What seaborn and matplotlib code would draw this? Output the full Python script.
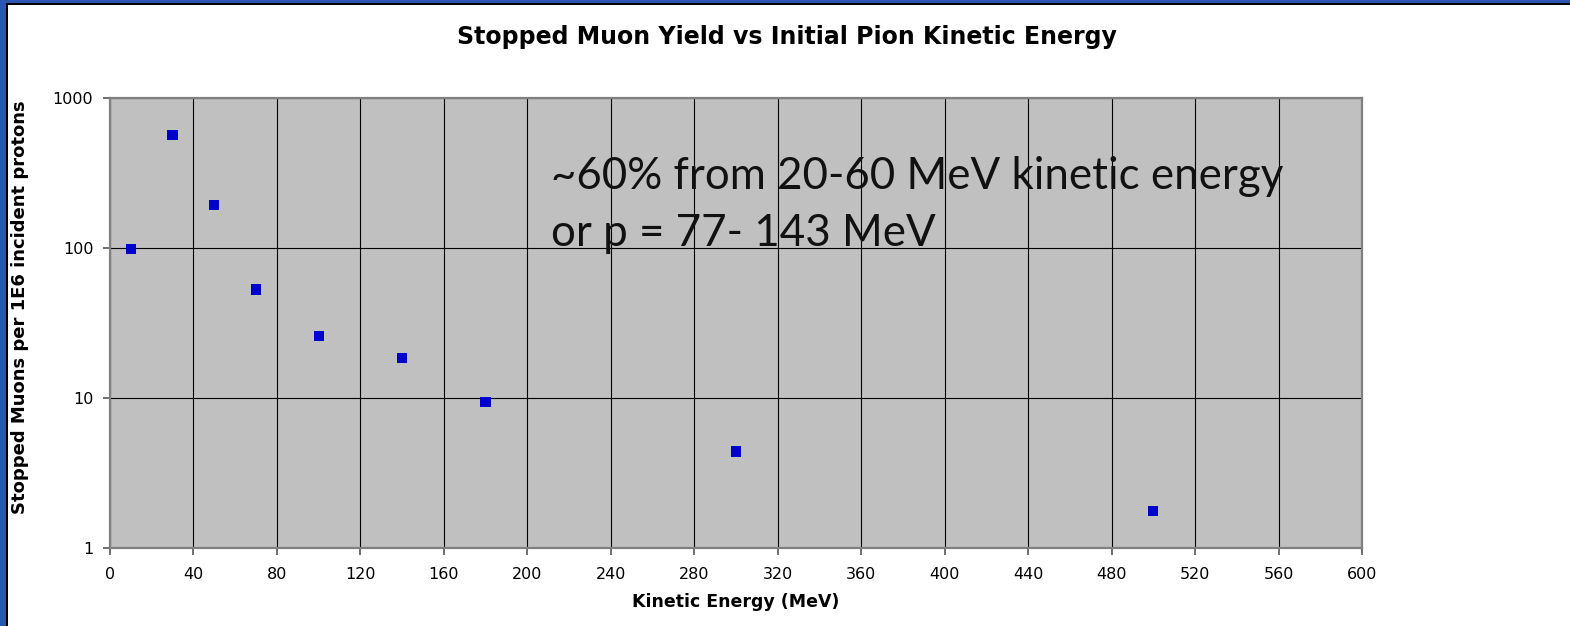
import matplotlib
matplotlib.use("Agg")
import matplotlib.pyplot as plt
import seaborn as sns
import pandas as pd
from matplotlib.patches import Rectangle
from matplotlib.ticker import FixedLocator, FixedFormatter, NullLocator

# ---- data ----
kinetic_energy = [10, 30, 50, 70, 100, 140, 180, 300, 500]
stopped_muons = [98, 566, 194, 53, 26, 18.5, 9.4, 4.4, 1.77]
x_ticks = [0, 40, 80, 120, 160, 200, 240, 280, 320, 360, 400, 440, 480, 520, 560, 600]
y_ticks = [1, 10, 100, 1000]
y_tick_labels = ["1", "10", "100", "1000"]

title = "Stopped Muon Yield vs Initial Pion Kinetic Energy"
xlabel = "Kinetic Energy (MeV)"
ylabel = "Stopped Muons per 1E6 incident protons"
note_lines = ["~60% from 20-60 MeV kinetic energy", "or p = 77- 143 MeV"]

df = pd.DataFrame({"ke": kinetic_energy, "yield": stopped_muons})

sns.set_theme(style="white")
plt.rcParams['font.family'] = ['DejaVu Sans']
plt.rcParams['text.color'] = 'black'

W, H = 1570, 626
fig = plt.figure(figsize=(W / 100, H / 100), dpi=100)
fig.patch.set_facecolor("white")

# slide border fragments
blue = "#2a56b2"
fig.add_artist(Rectangle((0, 1 - 3 / H), 1, 3 / H, transform=fig.transFigure,
                         facecolor=blue, edgecolor="none"))
fig.add_artist(Rectangle((0, 1 - 4.5 / H), 1, 1.5 / H, transform=fig.transFigure,
                         facecolor="black", edgecolor="none"))
fig.add_artist(Rectangle((0, 0), 6 / W, 1, transform=fig.transFigure,
                         facecolor=blue, edgecolor="none"))
fig.add_artist(Rectangle((6 / W, 0), 1.5 / W, 1 - 3 / H, transform=fig.transFigure,
                         facecolor="black", edgecolor="none"))

ax = fig.add_axes([110 / W, 78 / H, 1252 / W, 450 / H])
ax.set_facecolor("#c0c0c0")

sns.scatterplot(data=df, x="ke", y="yield", marker="s", s=55, color="#0000cc",
                edgecolor="none", linewidth=0, ax=ax, zorder=5)

ax.set_yscale("log")
ax.set_xlim(0, 600)
ax.set_ylim(1, 1000)
ax.xaxis.set_major_locator(FixedLocator(x_ticks))
ax.yaxis.set_major_locator(FixedLocator(y_ticks))
ax.yaxis.set_major_formatter(FixedFormatter(y_tick_labels))
ax.yaxis.set_minor_locator(NullLocator())

ax.grid(True, which="major", color="black", linewidth=0.8)
ax.set_axisbelow(True)
for sp in ax.spines.values():
    sp.set_color("#808080")
    sp.set_linewidth(1.6)
ax.tick_params(axis="both", which="major", direction="out", length=5, width=1.2,
               color="#555555", labelsize=11.5, labelcolor="black", pad=7)
ax.tick_params(axis="x", bottom=True, pad=9)
ax.tick_params(axis="y", left=True)

ax.set_xlabel("")
ax.set_ylabel("")
fig.text(736 / W, 1 - 602 / H, xlabel, fontsize=12.5, fontweight="bold",
         ha="center", va="center", color="black")
fig.text(20 / W, 1 - 307 / H, ylabel, rotation=90, fontsize=13, fontweight="bold",
         ha="center", va="center", color="black")
fig.text(787 / W, 1 - 37 / H, title, fontsize=17, fontweight="bold",
         ha="center", va="center", color="black")

note_baselines = [189, 246]
for line, yb in zip(note_lines, note_baselines):
    ax.text((551 - 110) / 1252, (548 - yb) / 450, line, transform=ax.transAxes,
            ha="left", va="baseline", fontsize=31.6,
            family=["Lato", "DejaVu Sans"], color="#111111", zorder=6)

fig.savefig("out.png", dpi=100, facecolor="white")
